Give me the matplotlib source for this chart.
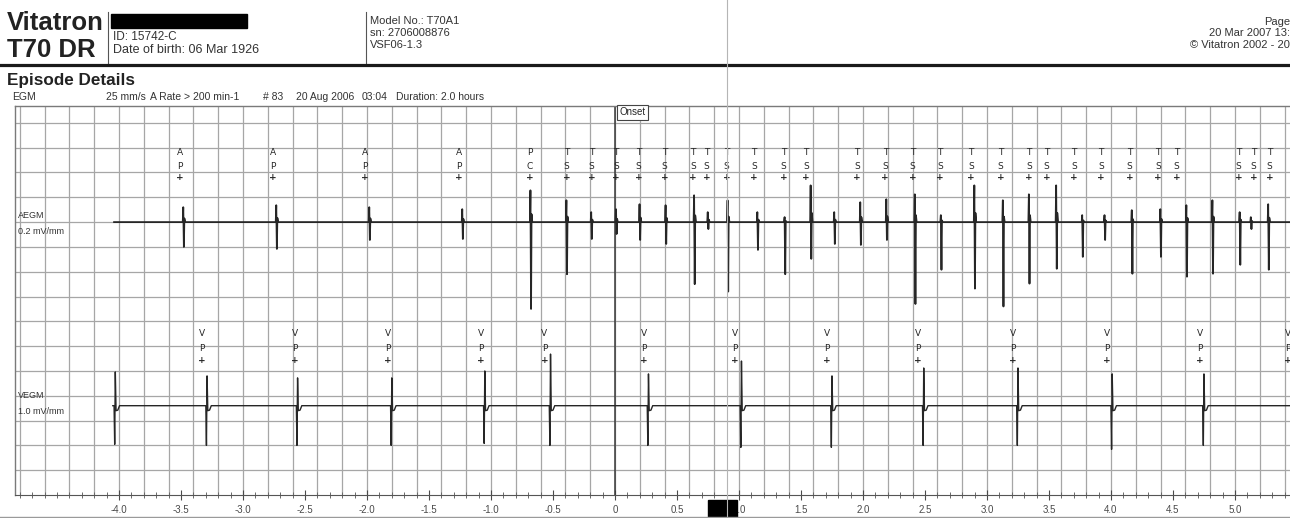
import numpy as np
import matplotlib
matplotlib.use('Agg')
from matplotlib import pyplot as plt
from matplotlib.patches import Rectangle
from matplotlib.lines import Line2D

plt.rcParams['font.family'] = ['Liberation Sans', 'DejaVu Sans']

W, H = 1290, 518

# time axis (seconds from onset)
tick_pos = [-4.0, -3.5, -3.0, -2.5, -2.0, -1.5, -1.0, -0.5, 0.0, 0.5,
            1.0, 1.5, 2.0, 2.5, 3.0, 3.5, 4.0, 4.5, 5.0]
tick_labels = ['-4.0', '-3.5', '-3.0', '-2.5', '-2.0', '-1.5', '-1.0', '-0.5', '0',
               '0.5', '1.0', '1.5', '2.0', '2.5', '3.0', '3.5', '4.0', '4.5', '5.0']

# atrial marker channel
a_mark_t = [-3.51, -2.76, -2.02, -1.26, -0.69, -0.39, -0.19, 0.01, 0.19, 0.40,
            0.63, 0.74, 0.90, 1.12, 1.36, 1.54, 1.95, 2.18, 2.40, 2.62,
            2.87, 3.11, 3.34, 3.48, 3.70, 3.92, 4.15, 4.38, 4.53, 5.03,
            5.15, 5.28]
a_mark_lbl = ['AP', 'AP', 'AP', 'AP', 'PC'] + ['TS'] * 27

# AEGM deflections: time (s), up (mm), down (mm)
a_t = [-3.48, -2.73, -1.98, -1.23, -0.68, -0.39, -0.19, 0.01, 0.20, 0.41,
       0.64, 0.75, 0.91, 1.15, 1.37, 1.58, 1.77, 1.98, 2.19, 2.42,
       2.63, 2.90, 3.13, 3.34, 3.56, 3.77, 3.95, 4.17, 4.40, 4.61,
       4.82, 5.04, 5.13, 5.27]
a_up = [3.0, 3.4, 3.0, 2.6, 6.4, 4.4, 2.0, 2.6, 3.6, 3.4,
        5.4, 2.0, 4.4, 2.0, 1.0, 7.4, 2.0, 4.0, 4.6, 5.6,
        1.4, 7.4, 4.4, 5.6, 7.4, 1.4, 1.4, 2.4, 2.6, 3.4,
        4.4, 2.0, 1.0, 3.6]
a_down = [5.0, 5.4, 3.6, 3.4, 17.5, 10.5, 3.4, 2.4, 3.6, 4.4,
          12.5, 1.4, 14.0, 5.6, 10.5, 7.4, 4.4, 4.6, 3.6, 16.5,
          9.6, 13.4, 17.0, 12.4, 9.4, 7.0, 3.6, 10.4, 7.0, 11.0,
          10.4, 8.6, 1.4, 9.6]

# ventricular marker channel
v_mark_t = [-3.33, -2.58, -1.83, -1.08, -0.57, 0.23, 0.97, 1.71, 2.44, 3.21,
            3.97, 4.72, 5.43]
v_mark_lbl = ['VP'] * 13

# VEGM deflections: time (s), up (mm), down (mm)
v_t = [-4.03, -3.29, -2.56, -1.80, -1.05, -0.52, 0.27, 1.02, 1.75, 2.49,
       3.25, 4.01, 4.75]
v_up = [6.8, 6.0, 5.6, 5.6, 7.0, 10.4, 6.4, 9.0, 6.0, 7.6, 7.6, 6.4, 6.4]
v_down = [7.8, 8.0, 8.0, 8.0, 7.6, 8.0, 8.0, 8.4, 8.4, 8.0, 8.0, 8.8, 8.0]

X_MIN, X_MAX = -4.839, 5.444
Y_TOP = 78.4
A_BASE, V_BASE = 55.0, 18.0
A_START, V_START = -4.04, -4.05

INK = '#262626'
GRID = '#a6a6a6'
TXT = '#333333'


def aegm_trace():
    xs, ys = [A_START], [0.0]
    for t, u, d in zip(a_t, a_up, a_down):
        xs += [t - 0.006, t - 0.002, t + 0.003, t + 0.007, t + 0.013]
        ys += [0.0, u, -d, 0.25 * u, 0.0]
    xs.append(X_MAX + 0.1)
    ys.append(0.0)
    return np.array(xs), np.array(ys) + A_BASE


def vegm_trace():
    xs, ys = [V_START], [0.0]
    for t, u, d in zip(v_t, v_up, v_down):
        xs += [t - 0.010, t - 0.005, t, t + 0.006, t + 0.020, t + 0.034]
        ys += [0.0, -d, u, -1.0, -0.9, 0.0]
    xs.append(X_MAX + 0.1)
    ys.append(0.0)
    return np.array(xs), np.array(ys) + V_BASE


def fx(x):
    return x / W


def fy(y):
    return 1 - y / H


fig = plt.figure(figsize=(W / 100, H / 100), dpi=100)
fig.patch.set_facecolor('white')

# ---- strip
ax = fig.add_axes([fx(15), fy(495), fx(1290 - 15), (495 - 106) / H])
ax.set_xlim(X_MIN, X_MAX)
ax.set_ylim(0, Y_TOP)

grid_x = np.arange(-4.8, 5.45, 0.2)
ax.vlines(grid_x, 0, Y_TOP, color=GRID, lw=0.9, zorder=1)
ax.hlines(np.arange(5, Y_TOP, 5), X_MIN, X_MAX, color=GRID, lw=0.9, zorder=1)
ax.axvline(0, color='#3a3a3a', lw=1.1, zorder=2)

x, y = aegm_trace()
ax.plot(x, y, color=INK, lw=1.3, zorder=3)
x, y = vegm_trace()
ax.plot(x, y, color=INK, lw=1.0, zorder=3)

for t, lbl in zip(a_mark_t, a_mark_lbl):
    ax.text(t, 69.0, lbl[0], fontsize=6.5, ha='center', va='center', color=INK, family='DejaVu Sans')
    ax.text(t, 66.3, lbl[1], fontsize=6.5, ha='center', va='center', color=INK, family='DejaVu Sans')
    ax.text(t, 63.9, '+', fontsize=6.5, ha='center', va='center', color=INK, fontweight='bold', family='DejaVu Sans')

for t, lbl in zip(v_mark_t, v_mark_lbl):
    ax.text(t, 32.5, lbl[0], fontsize=6.5, ha='center', va='center', color=INK, family='DejaVu Sans', clip_on=True)
    ax.text(t, 29.6, lbl[1], fontsize=6.5, ha='center', va='center', color=INK, family='DejaVu Sans', clip_on=True)
    ax.text(t, 27.2, '+', fontsize=6.5, ha='center', va='center', color=INK, fontweight='bold', family='DejaVu Sans', clip_on=True)

ax.text(0.035, Y_TOP - 1.3, 'Onset', fontsize=7, ha='left', va='center', color=INK,
        bbox=dict(boxstyle='square,pad=0.25', fc='white', ec='#444444', lw=0.8), zorder=4)

ax.set_xticks(tick_pos)
ax.set_xticklabels(tick_labels)
ax.set_xticks(np.arange(-4.8, 5.45, 0.1), minor=True)
ax.set_yticks([])
ax.tick_params(axis='x', which='major', direction='inout', length=7, width=0.8,
               labelsize=7, colors='#4a4a4a', pad=4)
ax.tick_params(axis='x', which='minor', direction='inout', length=4, width=0.7, colors='#6a6a6a')
for s in ['left', 'top']:
    ax.spines[s].set_color('#7a7a7a')
    ax.spines[s].set_linewidth(1.0)
ax.spines['bottom'].set_color('#555555')
ax.spines['right'].set_visible(False)

# channel labels
fig.text(fx(18), fy(215), 'AEGM', fontsize=6.5, color=TXT, va='center')
fig.text(fx(18), fy(231), '0.2 mV/mm', fontsize=6.5, color=TXT, va='center')
fig.text(fx(18), fy(395), 'VEGM', fontsize=6.5, color=TXT, va='center')
fig.text(fx(18), fy(412), '1.0 mV/mm', fontsize=6.5, color=TXT, va='center')

# ---- header
fig.text(fx(7), fy(30), 'Vitatron', fontsize=18.5, fontweight='bold', color='#222222', va='baseline')
fig.text(fx(7), fy(57), 'T70 DR', fontsize=18.5, fontweight='bold', color='#222222', va='baseline')
fig.add_artist(Rectangle((fx(111), fy(28)), fx(136), 14 / H, transform=fig.transFigure,
                         color='black'))
fig.add_artist(Line2D([fx(108), fx(108)], [fy(12), fy(63)], color='#555555', lw=0.8))
fig.add_artist(Line2D([fx(366), fx(366)], [fy(12), fy(63)], color='#555555', lw=0.8))
fig.text(fx(113), fy(37), 'ID: 15742-C', fontsize=8.5, color=TXT, va='center')
fig.text(fx(113), fy(50), 'Date of birth: 06 Mar 1926', fontsize=9, color=TXT, va='center')
fig.text(fx(370), fy(21), 'Model No.: T70A1', fontsize=8, color=TXT, va='center')
fig.text(fx(370), fy(33), 'sn: 2706008876', fontsize=8, color=TXT, va='center')
fig.text(fx(370), fy(45), 'VSF06-1.3', fontsize=8, color=TXT, va='center')
fig.text(fx(1290), fy(22), 'Page', fontsize=8, color=TXT, va='center', ha='right')
fig.text(fx(1290), fy(33), '20 Mar 2007 13:', fontsize=8, color=TXT, va='center', ha='right')
fig.text(fx(1290), fy(45), '\u00a9 Vitatron 2002 - 20', fontsize=8, color=TXT, va='center', ha='right')
fig.add_artist(Line2D([0, 1], [fy(65), fy(65)], color='#1a1a1a', lw=2.3))
fig.add_artist(Line2D([fx(727), fx(727)], [0, 1], color='#b5b5b5', lw=0.8))

fig.text(fx(7), fy(85), 'Episode Details', fontsize=12.3, fontweight='bold', color='#222222', va='baseline')
fig.text(fx(12), fy(97), 'EGM', fontsize=7.5, color=TXT, va='center')
fig.text(fx(106), fy(97), '25 mm/s', fontsize=7.5, color=TXT, va='center')
fig.text(fx(150), fy(97), 'A Rate > 200 min-1', fontsize=7.5, color=TXT, va='center')
fig.text(fx(263), fy(97), '# 83', fontsize=7.5, color=TXT, va='center')
fig.text(fx(296), fy(97), '20 Aug 2006', fontsize=7.5, color=TXT, va='center')
fig.text(fx(362), fy(97), '03:04', fontsize=7.5, color=TXT, va='center')
fig.text(fx(396), fy(97), 'Duration: 2.0 hours', fontsize=7.5, color=TXT, va='center')

# redaction over the 1.0 s label, page edge below the strip
fig.add_artist(Rectangle((fx(708), 0), fx(29), 18 / H, transform=fig.transFigure, color='black'))
fig.add_artist(Line2D([0, 1], [fy(516.5), fy(516.5)], color='#9a9a9a', lw=1.0))

fig.savefig('out.png', dpi=100)
plt.close(fig)
